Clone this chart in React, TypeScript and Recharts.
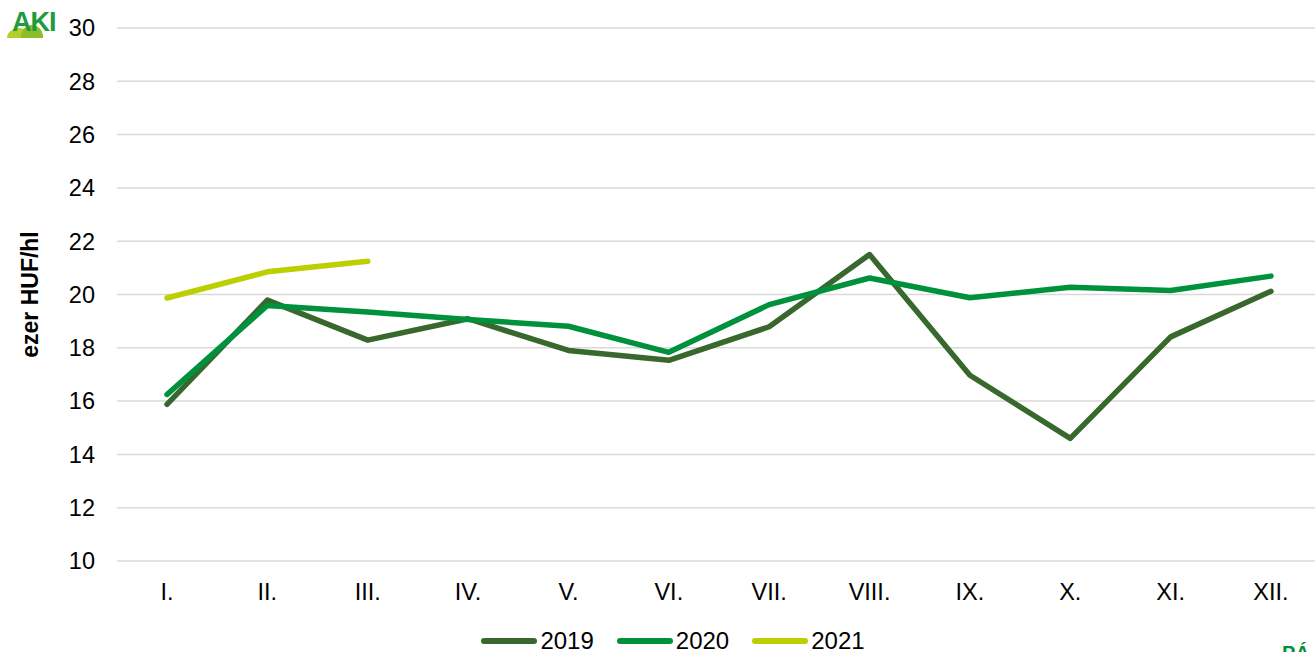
import React from 'react';
import { LineChart, Line, XAxis, YAxis, CartesianGrid, Legend } from 'recharts';

const months = ['I.', 'II.', 'III.', 'IV.', 'V.', 'VI.', 'VII.', 'VIII.', 'IX.', 'X.', 'XI.', 'XII.'];
const values2019 = [15.88, 19.79, 18.29, 19.09, 17.9, 17.53, 18.79, 21.5, 16.97, 14.6, 18.41, 20.12];
const values2020 = [16.25, 19.59, 19.34, 19.06, 18.81, 17.83, 19.62, 20.62, 19.88, 20.27, 20.15, 20.69];
const values2021 = [19.87, 20.85, 21.25];
const yTicks = [10, 12, 14, 16, 18, 20, 22, 24, 26, 28, 30];

const seriesNames = ['2019', '2020', '2021'];
const colors = ['#38682e', '#00913d', '#bccf00'];

const data = months.map((m, i) => ({
  month: m,
  '2019': values2019[i],
  '2020': values2020[i],
  '2021': i < values2021.length ? values2021[i] : null,
}));

const FONT = 'Liberation Sans, Arial, sans-serif';

const LegendContent = () => (
  <div
    style={{
      height: 36,
      paddingTop: 14,
      paddingLeft: 25,
      boxSizing: 'border-box',
      display: 'flex',
      justifyContent: 'center',
      alignItems: 'center',
      fontFamily: FONT,
      fontSize: 24,
      color: '#000',
    }}
  >
    {seriesNames.map((s, i) => (
      <div key={s} style={{ display: 'flex', alignItems: 'center', marginRight: i < 2 ? 23 : 0 }}>
        <div style={{ width: 56, height: 6, borderRadius: 3, background: colors[i], marginRight: 3 }} />
        <span style={{ lineHeight: '22px' }}>{s}</span>
      </div>
    ))}
  </div>
);

const YLabel = (props: any) => {
  const vb = props.viewBox || {};
  const cx = 30;
  const cy = (vb.y || 0) + (vb.height || 0) / 2;
  return (
    <text
      x={cx}
      y={cy}
      transform={`rotate(-90, ${cx}, ${cy})`}
      textAnchor="middle"
      dominantBaseline="central"
      fontFamily={FONT}
      fontWeight="bold"
      fontSize={23}
      fill="#000"
    >
      ezer HUF/hl
    </text>
  );
};

export default function App() {
  return (
    <div style={{ position: 'absolute', left: 0, top: 0, width: 1315, height: 652, overflow: 'hidden', background: '#fff' }}>
      <LineChart
        width={1322}
        height={652}
        data={data}
        margin={{ top: 28, right: 1, bottom: 0, left: 0 }}
      >
        <CartesianGrid vertical={false} stroke="#d9d9d9" strokeWidth={1.5} />
        <XAxis
          dataKey="month"
          axisLine={false}
          tickLine={false}
          tickSize={0}
          tickMargin={22}
          height={55}
          interval={0}
          padding={{ left: 50, right: 50 }}
          tick={{ fontFamily: FONT, fontSize: 23.5, fill: '#000' }}
        />
        <YAxis
          domain={[10, 30]}
          ticks={yTicks}
          axisLine={false}
          tickLine={false}
          tickSize={0}
          tickMargin={22}
          width={117}
          interval={0}
          tick={{ fontFamily: FONT, fontSize: 23.5, fill: '#000' }}
          label={<YLabel />}
        />
        <Legend
          verticalAlign="bottom"
          height={36}
          content={<LegendContent />}
          wrapperStyle={{ height: 36 }}
        />
        {seriesNames.map((s, i) => (
          <Line
            key={s}
            type="linear"
            dataKey={s}
            stroke={colors[i]}
            strokeWidth={5.5}
            strokeLinejoin="round"
            strokeLinecap="round"
            dot={false}
            activeDot={false}
            connectNulls={false}
            isAnimationActive={false}
          />
        ))}
      </LineChart>
      <svg style={{ position: 'absolute', left: 0, top: 0 }} width={70} height={50}>
        <defs>
          <clipPath id="hillclip">
            <rect x={0} y={0} width={70} height={38} />
          </clipPath>
        </defs>
        <g clipPath="url(#hillclip)">
          <ellipse cx={19} cy={38} rx={12} ry={10} fill="#b5cf2a" />
          <ellipse cx={32} cy={37} rx={11} ry={12} fill="#8cbd2f" />
        </g>
        <text x={12} y={31} fontFamily={FONT} fontWeight="bold" fontSize={27} fill="#1e9b3c" letterSpacing={-1}>
          AKI
        </text>
      </svg>
      <svg style={{ position: 'absolute', left: 1270, top: 630 }} width={45} height={22}>
        <text x={12} y={30} fontFamily={FONT} fontWeight="bold" fontSize={20} fill="#00913d">
          PÁ
        </text>
      </svg>
    </div>
  );
}
